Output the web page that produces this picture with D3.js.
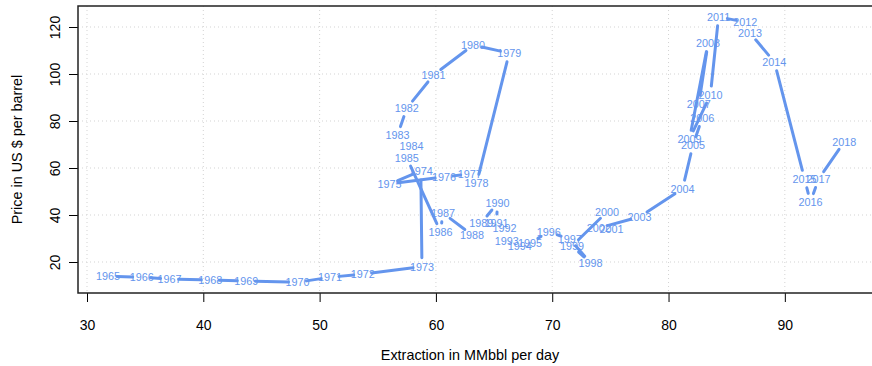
<!DOCTYPE html>
<html>
<head>
<meta charset="utf-8">
<script src="https://cdn.jsdelivr.net/npm/d3@7"></script>
<style>
  body { margin: 0; background: #fff; }
  svg { display: block; font-family: "Liberation Sans", Arial, sans-serif; }
</style>
</head>
<body>
<svg id="chart" width="872" height="366"></svg>
<script>
// years, extraction (MMbbl/day) and price (US $ per barrel)
const years = [1965, 1966, 1967, 1968, 1969, 1970, 1971, 1972, 1973, 1974,
    1975, 1976, 1977, 1978, 1979, 1980, 1981, 1982, 1983, 1984,
    1985, 1986, 1987, 1988, 1989, 1990, 1991, 1992, 1993, 1994,
    1995, 1996, 1997, 1998, 1999, 2000, 2001, 2002, 2003, 2004,
    2005, 2006, 2007, 2008, 2009, 2010, 2011, 2012, 2013, 2014,
    2015, 2016, 2017, 2018]
const extraction = [31.8, 34.7, 37.1, 40.6, 43.7, 48.1, 50.9, 53.7, 58.8, 58.7,
    56.0, 60.7, 62.9, 63.5, 66.3, 63.2, 59.8, 57.5, 56.7, 57.9,
    57.5, 60.4, 60.6, 63.1, 63.9, 65.3, 65.2, 65.9, 66.1, 67.2,
    68.1, 69.7, 71.5, 73.3, 71.7, 74.7, 75.1, 74.0, 77.5, 81.2,
    82.1, 82.9, 82.6, 83.4, 81.8, 83.6, 84.3, 86.6, 87.0, 89.1,
    91.7, 92.2, 92.9, 95.1]
const price = [14.0, 13.5, 12.8, 12.3, 11.9, 11.4, 13.5, 14.9, 18.0, 58.7,
    53.2, 56.2, 57.5, 53.6, 108.9, 112.3, 99.6, 85.5, 74.0, 69.4,
    64.3, 32.8, 40.9, 31.5, 36.6, 45.1, 36.6, 34.5, 28.9, 26.8,
    28.1, 32.8, 29.8, 19.6, 26.8, 41.3, 34.0, 34.5, 39.2, 51.1,
    69.8, 81.3, 87.2, 113.2, 72.3, 91.1, 124.3, 122.1, 117.5, 105.1,
    55.3, 45.5, 55.3, 71.1]
const xTicks = [30, 40, 50, 60, 70, 80, 90]
const yTicks = [20, 40, 60, 80, 100, 120]

const plotL = 78, plotR = 873, plotT = 6, plotB = 293
const col = 'cornflowerblue'
const gap = 9 // R type "c": lines stop short of each label

const svg = d3.select('#chart')

const x = d3.scaleLinear().domain([29.226, 97.58]).range([plotL, plotR])
const y = d3.scaleLinear().domain([6.81, 128.94]).range([plotB, plotT])

// dotted grid
svg.append('g').selectAll('line')
    .data(xTicks).enter().append('line')
    .attr('x1', d => x(d)).attr('x2', d => x(d))
    .attr('y1', plotT).attr('y2', plotB)
    .attr('stroke', '#d3d3d3').attr('stroke-dasharray', '1 3')
svg.append('g').selectAll('line')
    .data(yTicks).enter().append('line')
    .attr('x1', plotL).attr('x2', plotR)
    .attr('y1', d => y(d)).attr('y2', d => y(d))
    .attr('stroke', '#d3d3d3').attr('stroke-dasharray', '1 3')

// axes
const xAxis = svg.append('g')
    .attr('transform', `translate(0,${plotB})`)
    .call(d3.axisBottom(x).tickValues(xTicks).tickSize(9).tickPadding(18))
const yAxis = svg.append('g')
    .attr('transform', `translate(${plotL},0)`)
    .call(d3.axisLeft(y).tickValues(yTicks).tickSize(9))
xAxis.select('.domain').remove()
yAxis.select('.domain').remove()
svg.selectAll('.tick line').attr('stroke', '#000')
svg.selectAll('.tick text').attr('fill', '#000').style('font-size', '14px')
yAxis.selectAll('.tick text')
    .attr('x', null).attr('dy', null)
    .attr('text-anchor', 'middle')
    .attr('transform', 'translate(-18,0) rotate(-90)')

// box
svg.append('rect')
    .attr('x', plotL).attr('y', plotT)
    .attr('width', plotR - plotL).attr('height', plotB - plotT)
    .attr('fill', 'none').attr('stroke', '#222').attr('stroke-width', 1.5)

// connecting segments with gaps
const pts = years.map((yr, i) => ({ year: yr, px: x(extraction[i]), py: y(price[i]) }))
const segs = []
for (let i = 1; i < pts.length; i++) {
    const a = pts[i - 1], b = pts[i]
    const dx = b.px - a.px, dy = b.py - a.py
    const len = Math.sqrt(dx * dx + dy * dy)
    if (len <= 2 * gap) continue
    const ux = dx / len, uy = dy / len
    segs.push({ x1: a.px + ux * gap, y1: a.py + uy * gap, x2: b.px - ux * gap, y2: b.py - uy * gap })
}
svg.append('g').selectAll('line')
    .data(segs).enter().append('line')
    .attr('x1', d => d.x1).attr('y1', d => d.y1)
    .attr('x2', d => d.x2).attr('y2', d => d.y2)
    .attr('stroke', col).attr('stroke-width', 3).attr('stroke-linecap', 'round')

// year labels
svg.append('g').selectAll('text')
    .data(pts).enter().append('text')
    .attr('x', d => d.px).attr('y', d => d.py)
    .attr('dy', '0.36em')
    .attr('text-anchor', 'middle')
    .attr('fill', col)
    .style('font-size', '10.8px')
    .text(d => d.year)

// axis titles
svg.append('text')
    .attr('x', (plotL + 862) / 2).attr('y', 360)
    .attr('text-anchor', 'middle').style('font-size', '14.4px')
    .text('Extraction in MMbbl per day')
svg.append('text')
    .attr('transform', `translate(22,${(plotT + plotB) / 2}) rotate(-90)`)
    .attr('text-anchor', 'middle').style('font-size', '14.4px')
    .text('Price in US $ per barrel')
</script>
</body>
</html>
